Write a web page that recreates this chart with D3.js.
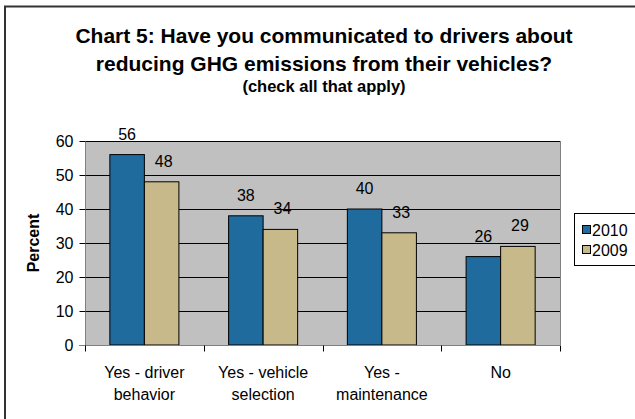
<!DOCTYPE html>
<html>
<head>
<meta charset="utf-8">
<script src="https://cdn.jsdelivr.net/npm/d3@7"></script>
<style>
  html, body { margin: 0; padding: 0; background: #fff; }
  svg { display: block; font-family: "Liberation Sans", Arial, sans-serif; }
</style>
</head>
<body>
<svg id="chart" width="635" height="419"></svg>
<script>
const categories = [["Yes - driver", "behavior"], ["Yes - vehicle", "selection"], ["Yes -", "maintenance"], ["No"]];
const seriesNames = ["2010", "2009"];
const values2010 = [56, 38, 40, 26];
const values2009 = [48, 34, 33, 29];
const yTicks = [0, 10, 20, 30, 40, 50, 60];
const colors = ["#1f6b9e", "#c8b98a"];

const svg = d3.select("#chart");
const W = 635, H = 419;
const plot = { left: 85, right: 560, top: 141, bottom: 345 };
const FS = 16;

// outer chart border (left & top visible)
svg.append("path")
  .attr("d", `M5,${H} V6.5 H${W}`)
  .attr("fill", "none").attr("stroke", "#333").attr("stroke-width", 2);

// title
const title = svg.append("g").attr("text-anchor", "middle").attr("font-weight", "bold").attr("fill", "#000");
title.append("text").attr("x", 324).attr("y", 43).attr("font-size", 21).text("Chart 5: Have you communicated to drivers about");
title.append("text").attr("x", 324).attr("y", 71).attr("font-size", 21).text("reducing GHG emissions from their vehicles?");
title.append("text").attr("x", 324).attr("y", 92).attr("font-size", 16.5).text("(check all that apply)");

const x0 = d3.scaleBand().domain(d3.range(categories.length)).range([plot.left, plot.right]).paddingInner(0).paddingOuter(0);
const x1 = d3.scaleBand().domain(seriesNames).range([0, x0.bandwidth()]).paddingInner(0).paddingOuter(0.72);
const y = d3.scaleLinear().domain([0, 60]).range([plot.bottom, plot.top]);

// plot background
svg.append("rect").attr("x", plot.left).attr("y", plot.top)
  .attr("width", plot.right - plot.left).attr("height", plot.bottom - plot.top)
  .attr("fill", "#c0c0c0");

// gridlines
svg.append("g").selectAll("line").data(yTicks.filter(d => d > 0)).join("line")
  .attr("x1", plot.left).attr("x2", plot.right)
  .attr("y1", d => Math.round(y(d)) + 0.5).attr("y2", d => Math.round(y(d)) + 0.5)
  .attr("stroke", "#000").attr("stroke-width", 1);

// plot border right side (gray)
svg.append("line").attr("x1", plot.right + 0.5).attr("x2", plot.right + 0.5)
  .attr("y1", plot.top).attr("y2", plot.bottom).attr("stroke", "#808080");

// bars
const data = categories.map((c, i) => ({ i, vals: [values2010[i], values2009[i]] }));
const groups = svg.append("g").selectAll("g").data(data).join("g")
  .attr("transform", d => `translate(${x0(d.i)},0)`);
groups.selectAll("rect").data(d => d.vals.map((v, k) => ({ k, v }))).join("rect")
  .attr("x", d => x1(seriesNames[d.k]))
  .attr("y", d => y(d.v))
  .attr("width", x1.bandwidth())
  .attr("height", d => y(0) - y(d.v))
  .attr("fill", d => colors[d.k])
  .attr("stroke", "#000").attr("stroke-width", 1);

// value labels
groups.selectAll("text").data(d => d.vals.map((v, k) => ({ k, v }))).join("text")
  .attr("x", d => x1(seriesNames[d.k]) + x1.bandwidth() / 2 + (d.k === 1 ? 2 : 0))
  .attr("y", d => y(d.v) - 15)
  .attr("text-anchor", "middle").attr("font-size", FS).attr("fill", "#000")
  .text(d => d.v);

// y axis
const yAxis = svg.append("g").attr("transform", `translate(${plot.left + 0.5},0)`)
  .call(d3.axisLeft(y).tickValues(yTicks).tickSize(6).tickPadding(6));
yAxis.select(".domain").attr("stroke", "#808080").attr("d", `M0,${plot.top}V${plot.bottom}`);
yAxis.selectAll(".tick line").attr("stroke", "#000");
yAxis.selectAll("text").attr("font-size", FS).attr("fill", "#000").attr("font-family", "Liberation Sans, Arial, sans-serif");

// x axis
const xAxisG = svg.append("g").attr("transform", `translate(0,${plot.bottom + 0.5})`);
xAxisG.append("line").attr("x1", plot.left - 6).attr("x2", plot.right)
  .attr("stroke", "#808080");
const boundaries = d3.range(categories.length + 1).map(i => i < categories.length ? x0(i) : plot.right);
xAxisG.selectAll("line.tk").data(boundaries).join("line").attr("class", "tk")
  .attr("x1", d => Math.round(d) + 0.5).attr("x2", d => Math.round(d) + 0.5)
  .attr("y1", 0).attr("y2", 6).attr("stroke", "#000");
const xl = xAxisG.selectAll("text").data(categories).join("text")
  .attr("text-anchor", "middle").attr("font-size", FS).attr("fill", "#000");
xl.each(function(lines, i) {
  const t = d3.select(this);
  lines.forEach((ln, j) => {
    t.append("tspan").attr("x", x0(i) + x0.bandwidth() / 2).attr("y", 32 + j * 22).text(ln);
  });
});

// y axis title
svg.append("text").attr("transform", `translate(39,243) rotate(-90)`)
  .attr("text-anchor", "middle").attr("font-size", FS).attr("font-weight", "bold").text("Percent");

// legend
const lg = svg.append("g");
lg.append("rect").attr("x", 574.5).attr("y", 213.5).attr("width", 70).attr("height", 52)
  .attr("fill", "#fff").attr("stroke", "#000");
seriesNames.forEach((s, k) => {
  const cy = 229.5 + k * 20;
  lg.append("rect").attr("x", 582.5).attr("y", cy - 4).attr("width", 8).attr("height", 8)
    .attr("fill", colors[k]).attr("stroke", "#000");
  lg.append("text").attr("x", 592).attr("y", cy + 6).attr("font-size", FS).text(s);
});
</script>
</body>
</html>
